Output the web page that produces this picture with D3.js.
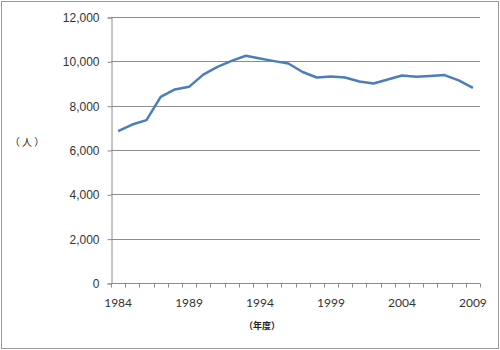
<!DOCTYPE html>
<html>
<head>
<meta charset="utf-8">
<script src="https://cdn.jsdelivr.net/npm/d3@7"></script>
<style>
  body { margin: 0; background: #fff; }
  svg { display: block; }
</style>
</head>
<body>
<div id="chart"></div>
<script>
// data
const years = d3.range(1984, 2010);
const people = [6850, 7150, 7350, 8400, 8730, 8850, 9400, 9750, 10020, 10250,
                10130, 10010, 9900, 9520, 9270, 9320, 9270, 9090, 9000, 9180,
                9360, 9300, 9340, 9380, 9140, 8800];
const yTicks = [0, 2000, 4000, 6000, 8000, 10000, 12000];
const xLabels = [1984, 1989, 1994, 1999, 2004, 2009];

function drawChart() {
    let width = 500;
    let height = 350;
    const margin = {top: 17, right: 20, bottom: 67, left: 111};

    const svg = d3.select("#chart")
        .append("svg")
        .attr("width", width)
        .attr("height", height)
        .style("font-family", "Lato, 'Open Sans', sans-serif");

    // outer frame
    svg.append("rect")
        .attr("x", 1.5).attr("y", 1.5)
        .attr("width", width - 3).attr("height", height - 3)
        .attr("fill", "white")
        .attr("stroke", "#9a9a9a");

    const x = d3.scaleBand()
        .domain(years)
        .range([margin.left, width - margin.right]);

    const y = d3.scaleLinear()
        .domain([0, 12000])
        .range([height - margin.bottom, margin.top]);

    // gridlines
    svg.append("g")
        .selectAll("line")
        .data(yTicks.filter(d => d > 0))
        .join("line")
        .attr("x1", margin.left)
        .attr("x2", width - margin.right)
        .attr("y1", d => Math.round(y(d)) + 0.5)
        .attr("y2", d => Math.round(y(d)) + 0.5)
        .attr("stroke", "#8c8c8c");

    // y axis
    const yAxis = svg.append("g")
        .attr("transform", `translate(${margin.left + 0.5},0.5)`)
        .call(d3.axisLeft(y).tickValues(yTicks).tickSize(4).tickPadding(8)
            .tickFormat(d3.format(",")));
    yAxis.select(".domain").attr("stroke", "#8c8c8c");
    yAxis.selectAll(".tick line").attr("stroke", "#8c8c8c");
    yAxis.selectAll("text").attr("fill", "#333").style("font-size", "12px");

    // x axis: ticks on category boundaries
    const xg = svg.append("g")
        .attr("transform", `translate(0,${Math.round(y(0)) + 0.5})`);
    xg.append("line")
        .attr("x1", margin.left).attr("x2", width - margin.right)
        .attr("stroke", "#8c8c8c");
    xg.selectAll("line.tk")
        .data(years.concat([2010]))
        .join("line")
        .attr("class", "tk")
        .attr("x1", d => Math.round(d === 2010 ? x.range()[1] : x(d)) + 0.5)
        .attr("x2", d => Math.round(d === 2010 ? x.range()[1] : x(d)) + 0.5)
        .attr("y1", 0).attr("y2", 4)
        .attr("stroke", "#8c8c8c");
    xg.selectAll("text")
        .data(xLabels)
        .join("text")
        .attr("x", d => x(d) + x.bandwidth() / 2)
        .attr("y", 23)
        .attr("text-anchor", "middle")
        .attr("fill", "#333")
        .style("font-size", "12px")
        .text(d => d);

    // line
    const line = d3.line()
        .x((d, i) => x(years[i]) + x.bandwidth() / 2)
        .y(d => y(d));

    svg.append("path")
        .datum(people)
        .attr("fill", "none")
        .attr("stroke", "#4a7ebb")
        .attr("stroke-width", 2.5)
        .attr("stroke-linejoin", "round")
        .attr("d", line);

    // axis titles
    svg.append("text")
        .attr("x", 27).attr("y", 146)
        .attr("text-anchor", "middle")
        .style("font-size", "10px")
        .style("font-family", "'Noto Sans CJK JP', sans-serif")
        .attr("fill", "#222")
        .text("（ 人 ）");

    svg.append("text")
        .attr("x", 262).attr("y", 329)
        .attr("text-anchor", "middle")
        .style("font-size", "9px")
        .style("font-weight", "bold")
        .style("font-family", "'Noto Sans CJK JP', sans-serif")
        .attr("fill", "#222")
        .text("（年度）");
}
drawChart();
</script>
</body>
</html>
